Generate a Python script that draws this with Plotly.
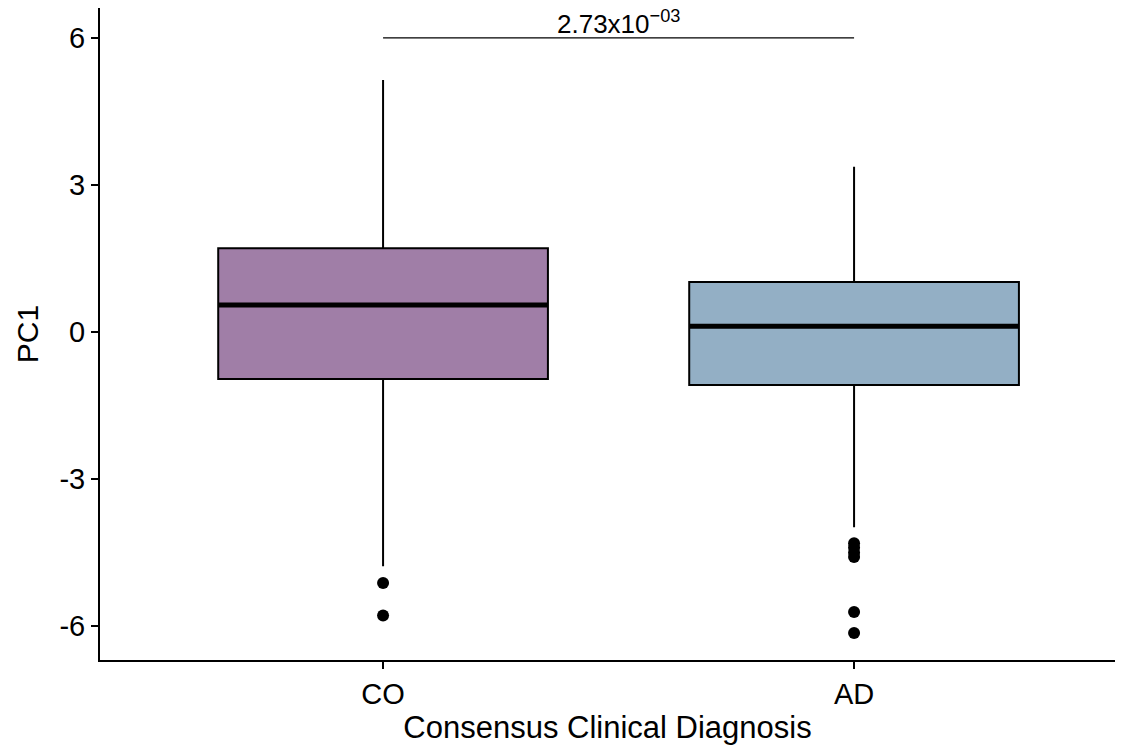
import plotly.graph_objects as go

categories = ["CO", "AD"]
q1 = [-0.96, -1.08]
median = [0.55, 0.12]
q3 = [1.71, 1.02]
lower_whisker = [-4.78, -3.98]
upper_whisker = [5.14, 3.37]
outliers_co = [-5.12, -5.78]
outliers_ad = [-4.31, -4.40, -4.50, -4.59, -5.71, -6.14]
fill_colors = ["#A07EA7", "#93AFC5"]
pvalue_text = "2.73x10<sup>−03</sup>"
bracket_y = 6
y_ticks = [-6, -3, 0, 3, 6]

xpos = [1, 2]
box_w = 0.7
FONT = "Liberation Sans"

fig = go.Figure()
for i, cat in enumerate(categories):
    fig.add_trace(go.Box(
        x=[xpos[i]], q1=[q1[i]], median=[median[i]], q3=[q3[i]],
        lowerfence=[lower_whisker[i]], upperfence=[upper_whisker[i]],
        width=box_w, whiskerwidth=0, fillcolor=fill_colors[i],
        line=dict(color="black", width=2), boxpoints=False,
        name=cat, showlegend=False, hoverinfo="skip",
    ))
    # thick median line
    fig.add_trace(go.Scatter(
        x=[xpos[i] - box_w / 2, xpos[i] + box_w / 2], y=[median[i], median[i]],
        mode="lines", line=dict(color="black", width=5), showlegend=False,
        hoverinfo="skip",
    ))

fig.add_trace(go.Scatter(
    x=[xpos[0]] * len(outliers_co) + [xpos[1]] * len(outliers_ad),
    y=outliers_co + outliers_ad, mode="markers",
    marker=dict(color="black", size=12), showlegend=False,
))

# significance bar
fig.add_trace(go.Scatter(
    x=[xpos[0], xpos[1]], y=[bracket_y, bracket_y], mode="lines",
    line=dict(color="black", width=1.3), showlegend=False,
))
fig.add_annotation(x=(xpos[0] + xpos[1]) / 2, y=bracket_y, text=pvalue_text,
                   showarrow=False, yanchor="bottom", yshift=-2, borderpad=0,
                   font=dict(size=26, color="black", family=FONT))

fig.update_layout(
    width=1129, height=748,
    margin=dict(l=92, r=22, t=0, b=96),
    plot_bgcolor="white", paper_bgcolor="white",
    font=dict(family=FONT, size=29, color="black"),
)
fig.update_xaxes(
    range=[0.399, 2.554], tickvals=xpos, ticktext=categories,
    showline=True, linecolor="black", linewidth=2, ticks="outside",
    ticklen=7, tickwidth=2, tickcolor="black", showgrid=False, zeroline=False,
    title=dict(text="Consensus Clinical Diagnosis", standoff=4,
               font=dict(size=31, family=FONT)),
    tickfont=dict(size=29, family=FONT), automargin=False,
)
fig.update_yaxes(
    range=[-6.69, 6.61], tickvals=y_ticks, ticktext=[str(v) for v in y_ticks],
    showline=True, linecolor="black", linewidth=2, ticks="outside",
    ticklen=7, tickwidth=2, tickcolor="black", showgrid=False, zeroline=False,
    title=dict(text="PC1", standoff=12, font=dict(size=30, family=FONT)),
    tickfont=dict(size=29, family=FONT), automargin=False,
)

fig.write_html("out.html")
